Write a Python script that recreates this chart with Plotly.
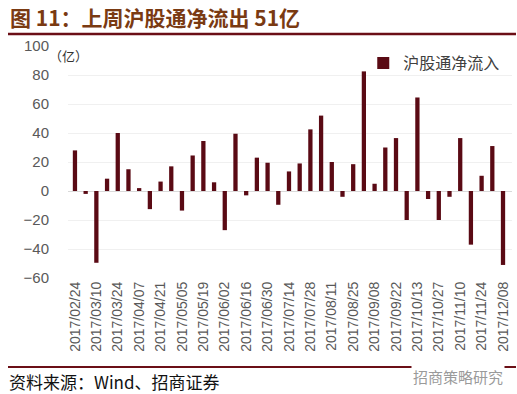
import plotly.graph_objects as go

dates = ["2017/02/24", "2017/03/03", "2017/03/10", "2017/03/17", "2017/03/24", "2017/03/31",
         "2017/04/07", "2017/04/14", "2017/04/21", "2017/04/28", "2017/05/05", "2017/05/12",
         "2017/05/19", "2017/05/26", "2017/06/02", "2017/06/09", "2017/06/16", "2017/06/23",
         "2017/06/30", "2017/07/07", "2017/07/14", "2017/07/21", "2017/07/28", "2017/08/04",
         "2017/08/11", "2017/08/18", "2017/08/25", "2017/09/01", "2017/09/08", "2017/09/15",
         "2017/09/22", "2017/09/29", "2017/10/13", "2017/10/20", "2017/10/27", "2017/11/03",
         "2017/11/10", "2017/11/17", "2017/11/24", "2017/12/01", "2017/12/08"]

net_inflow = [28, -2, -49.5, 8.5, 40, 15, 2, -12.5, 6.5, 17, -13.5, 24.5, 34.5, 6, -27,
              39.5, -3, 23, 19.5, -9.5, 13.5, 19, 42.5, 52, 20, -4, 18.5, 82.5, 5, 30,
              36.5, -20, 64.5, -5.5, -20, -4, 36.5, -37, 10.5, 31, -51]

tick_labels = dates[::2]
y_ticks = [-60, -40, -20, 0, 20, 40, 60, 80, 100]

series_name = "沪股通净流入"
title_text = "图 11：上周沪股通净流出 51亿"
unit_text = "（亿）"
source_text = "资料来源：Wind、招商证券"
watermark_text = "招商策略研究"

bar_color = "#5a0a14"
line_color = "#6b0f16"

fig = go.Figure()
fig.add_trace(go.Bar(x=list(range(len(dates))), y=net_inflow, name=series_name,
                     marker=dict(color=bar_color, line=dict(width=0)),
                     showlegend=True))

fig.update_layout(
    width=517, height=394,
    margin=dict(l=68, r=5, t=46, b=116, autoexpand=False),
    paper_bgcolor="white", plot_bgcolor="white",
    bargap=0.6,
    font=dict(family="Liberation Sans, Noto Sans CJK SC", color="#595959"),
    legend=dict(x=0.665, y=1.0, xanchor="left", yanchor="top",
                font=dict(family="Noto Sans CJK SC", size=16, color="#404040"),
                bgcolor="rgba(0,0,0,0)", itemwidth=30),
    xaxis=dict(
        range=[-0.65, 40.84],
        tickmode="array",
        tickvals=list(range(0, len(dates), 2)),
        ticktext=tick_labels,
        tickangle=-90,
        tickfont=dict(size=14, color="#595959"),
        showgrid=False, zeroline=False, showline=False, ticks="",
        automargin=False,
    ),
    yaxis=dict(
        range=[-60, 100],
        tickmode="array",
        tickvals=y_ticks,
        tickfont=dict(size=15, color="#595959"),
        showgrid=True, gridcolor="#f0f0f0", gridwidth=1,
        zeroline=True, zerolinecolor="#d9d9d9", zerolinewidth=1,
        showline=False, ticks="", ticklabelstandoff=18,
        automargin=False,
    ),
)

W, H = 444.0, 232.0
def px(x):
    return (x - 68) / W
def py(y):
    return (278 - y) / H

fig.add_shape(type="line", xref="paper", yref="paper",
              x0=px(8), x1=px(516), y0=py(34), y1=py(34),
              line=dict(color=line_color, width=2.5))
fig.add_shape(type="line", xref="paper", yref="paper",
              x0=px(8), x1=px(516), y0=py(367), y1=py(367),
              line=dict(color=line_color, width=2))

fig.add_annotation(xref="paper", yref="paper", x=px(8), y=py(17),
                   xanchor="left", yanchor="middle", showarrow=False,
                   text="<b>" + title_text + "</b>",
                   font=dict(family="Noto Sans CJK SC", size=21, color="#7a3a12"))
fig.add_annotation(xref="paper", yref="paper", x=px(47), y=py(55),
                   xanchor="left", yanchor="middle", showarrow=False,
                   text=unit_text,
                   font=dict(family="Noto Sans CJK SC", size=13, color="#333333"))
fig.add_annotation(xref="paper", yref="paper", x=px(7), y=py(381),
                   xanchor="left", yanchor="middle", showarrow=False,
                   text=source_text,
                   font=dict(family="Noto Sans CJK SC", size=17, color="#111111"))
fig.add_annotation(xref="paper", yref="paper", x=px(505), y=py(376),
                   xanchor="right", yanchor="middle", showarrow=False,
                   text=watermark_text, bgcolor="white",
                   font=dict(family="Noto Sans CJK SC", size=15, color="#9a9a9a"))

fig.write_html("out.html", config={"displayModeBar": False},
               post_script="document.body.style.margin='0px';document.body.style.overflow='hidden';")
